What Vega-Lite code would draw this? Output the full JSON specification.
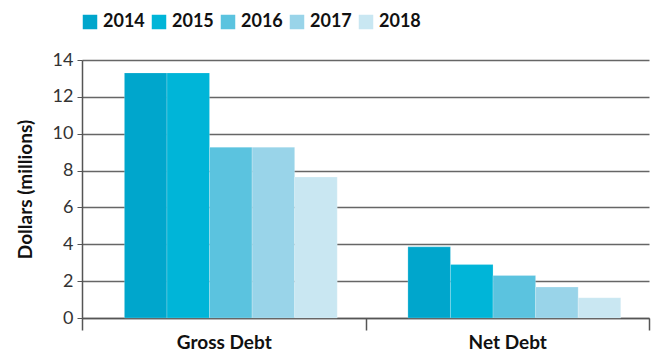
{
  "$schema": "https://vega.github.io/schema/vega-lite/v6.json",
  "autosize": "none",
  "padding": {"left": 82, "top": 60, "right": 8, "bottom": 38},
  "width": 567,
  "height": 258,
  "background": "white",
  "config": {
    "font": "Lato, sans-serif",
    "view": {"stroke": null}
  },
  "data": {
    "values": [
      {"type": "Gross Debt", "year": "2014", "value": 13.3},
      {"type": "Gross Debt", "year": "2015", "value": 13.3},
      {"type": "Gross Debt", "year": "2016", "value": 9.27},
      {"type": "Gross Debt", "year": "2017", "value": 9.27},
      {"type": "Gross Debt", "year": "2018", "value": 7.65},
      {"type": "Net Debt", "year": "2014", "value": 3.86},
      {"type": "Net Debt", "year": "2015", "value": 2.9},
      {"type": "Net Debt", "year": "2016", "value": 2.31},
      {"type": "Net Debt", "year": "2017", "value": 1.68},
      {"type": "Net Debt", "year": "2018", "value": 1.1}
    ]
  },
  "mark": {"type": "bar", "stroke": "#ffffff", "strokeOpacity": 0.35, "strokeWidth": 0.6},
  "encoding": {
    "x": {
      "field": "type",
      "type": "nominal",
      "scale": {"paddingInner": 0, "paddingOuter": 0},
      "axis": {
        "title": null,
        "labelAngle": 0,
        "tickBand": "extent",
        "labelFontSize": 19,
        "labelFontWeight": "bold",
        "labelColor": "#111111",
        "labelPadding": 3,
        "tickSize": 12,
        "tickColor": "#555555",
        "domainColor": "#555555",
        "domainWidth": 1.5,
        "tickWidth": 1.5
      }
    },
    "xOffset": {
      "field": "year",
      "type": "nominal",
      "scale": {"paddingInner": 0, "paddingOuter": 0.83, "align": 0.6}
    },
    "y": {
      "field": "value",
      "type": "quantitative",
      "scale": {"domain": [0, 14], "nice": false},
      "axis": {
        "title": "Dollars (millions)",
        "titleFontSize": 19,
        "titleFontWeight": "bold",
        "titleColor": "#111111",
        "titlePadding": 17,
        "values": [0, 2, 4, 6, 8, 10, 12, 14],
        "labelFontSize": 18,
        "labelColor": "#333333",
        "labelPadding": 4,
        "tickSize": 5,
        "tickColor": "#555555",
        "grid": true,
        "gridColor": "#666666",
        "gridWidth": 1.5,
        "domainColor": "#555555",
        "domainWidth": 1.5,
        "zindex": 0
      }
    },
    "color": {
      "field": "year",
      "type": "nominal",
      "scale": {
        "domain": ["2014", "2015", "2016", "2017", "2018"],
        "range": ["#00a6cc", "#00b5d8", "#5bc3df", "#99d4e9", "#c9e7f2"]
      },
      "legend": {
        "title": null,
        "orient": "none",
        "direction": "horizontal",
        "legendX": -1,
        "legendY": -47,
        "symbolType": "square",
        "symbolSize": 210,
        "symbolStrokeWidth": 0,
        "labelFontSize": 18,
        "labelFontWeight": "bold",
        "labelColor": "#111111",
        "labelOffset": 4,
        "columnPadding": 5
      }
    }
  }
}
